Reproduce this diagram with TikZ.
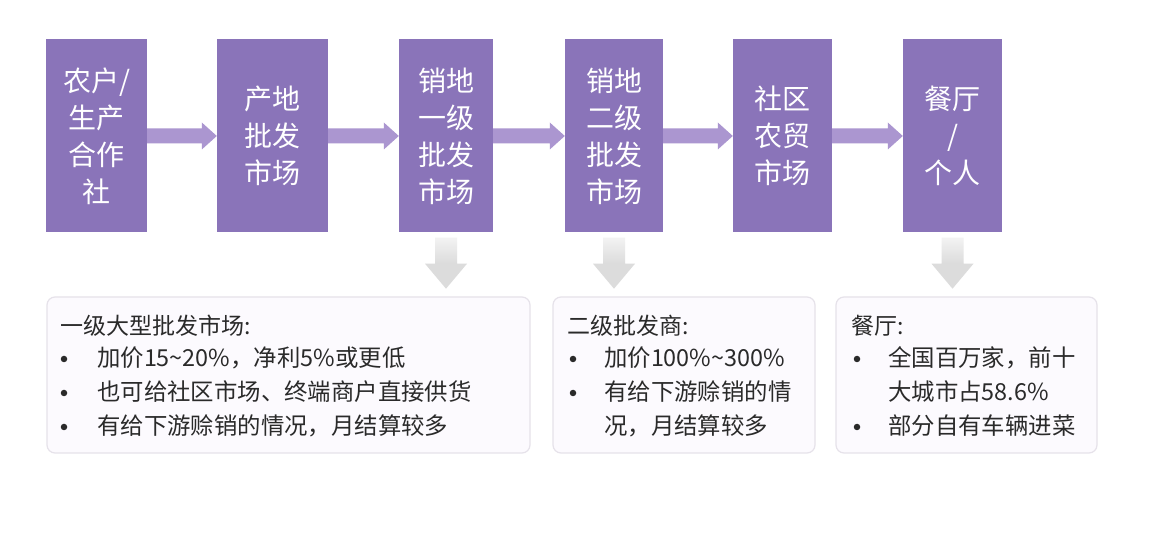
\documentclass[tikz,border=0pt]{standalone}
\usepackage{fontspec}
\setmainfont{Noto Sans CJK SC}
\usetikzlibrary{calc}
\definecolor{boxpurple}{HTML}{8A74B9}
\definecolor{arrowpurple}{HTML}{AB96D0}
\definecolor{downgray}{HTML}{DCDCDC}
\definecolor{notefill}{HTML}{FCFAFE}
\definecolor{noteline}{HTML}{E6E2EA}
\definecolor{notetext}{HTML}{2A2A2A}
\tikzset{
  stagebox/.style={fill=boxpurple, draw=none, inner sep=0pt, minimum height=193pt,
    text=white, font=\fontsize{28}{37}\selectfont, align=center},
  notebox/.style={fill=notefill, draw=noteline, line width=1.2pt, rounded corners=8pt,
    inner sep=0pt, minimum height=156pt},
  notetitle/.style={anchor=base west, inner sep=0pt, text=notetext, font=\fontsize{23}{34}\selectfont},
  bulletdot/.style={circle, fill=notetext, inner sep=0pt, minimum size=6.5pt},
  bullettext/.style={anchor=base west, inner sep=0pt, text=notetext, font=\fontsize{23.4}{34}\selectfont},
  flowarrow/.style={fill=arrowpurple},
  downarrow/.style={top color=downgray!35, bottom color=downgray, middle color=downgray}
}
\newcommand{\flowarrowdraw}[2]{%
  \fill[flowarrow] ($(#1.east)+(0,7.5)$) -- ($(#2.west)+(-15,7.5)$) -- ($(#2.west)+(-15,13.5)$)
    -- (#2.west) -- ($(#2.west)+(-15,-13.5)$) -- ($(#2.west)+(-15,-7.5)$) -- ($(#1.east)+(0,-7.5)$) -- cycle;}
\newcommand{\downarrowdraw}[2]{%
  \shade[downarrow] ($(#1.south)+(-11,5)$) -- ($(#1.south)+(-11,31)$) -- ($(#1.south)+(-21,31)$)
    -- ($(#1.south)+(0,#2)$) -- ($(#1.south)+(21,31)$) -- ($(#1.south)+(11,31)$) -- ($(#1.south)+(11,5)$) -- cycle;}
\begin{document}
\begin{tikzpicture}[x=1pt,y=-1pt]
\useasboundingbox[fill=white] (0,0) rectangle (1160,534);
% stage boxes
\node[stagebox, minimum width=101pt] (b1) at (96.5,136) {农户/\\生产\\合作\\社};
\node[stagebox, minimum width=111pt] (b2) at (272.5,136) {产地\\批发\\市场};
\node[stagebox, minimum width=94pt] (b3) at (446,136) {销地\\一级\\批发\\市场};
\node[stagebox, minimum width=98pt] (b4) at (614,136) {销地\\二级\\批发\\市场};
\node[stagebox, minimum width=99pt] (b5) at (782.5,136) {社区\\农贸\\市场};
\node[stagebox, minimum width=99pt] (b6) at (952.5,136) {餐厅\\/\\个人};
% flow arrows
\flowarrowdraw{b1}{b2}
\flowarrowdraw{b2}{b3}
\flowarrowdraw{b3}{b4}
\flowarrowdraw{b4}{b5}
\flowarrowdraw{b5}{b6}
% note boxes
\node[notebox, minimum width=483pt] (nA) at (288.5,375) {};
\node[notebox, minimum width=262pt] (nB) at (684,375) {};
\node[notebox, minimum width=261pt] (nC) at (966.5,375) {};
% down arrows
\downarrowdraw{b3}{56}
\downarrowdraw{b4}{56}
\downarrowdraw{b6}{56}
% texts A
\node[notetitle] (tA0) at (60,335) {一级大型批发市场:};
\node[bulletdot] (dA1) at (64,359) {};
\node[bullettext] (tA1) at (97,367) {加价15\textasciitilde20\%，净利5\%或更低};
\node[bulletdot] (dA2) at (64,393) {};
\node[bullettext] (tA2) at (97,401) {也可给社区市场、终端商户直接供货};
\node[bulletdot] (dA3) at (64,427) {};
\node[bullettext] (tA3) at (97,435) {有给下游赊销的情况，月结算较多};
% texts B
\node[notetitle] (tB0) at (567,335) {二级批发商:};
\node[bulletdot] (dB1) at (573,359) {};
\node[bullettext] (tB1) at (604,367) {加价100\%\textasciitilde300\%};
\node[bulletdot] (dB2) at (573,393) {};
\node[bullettext] (tB2) at (604,401) {有给下游赊销的情};
\node[bullettext] (tB3) at (604,435) {况，月结算较多};
% texts C
\node[notetitle] (tC0) at (851,335) {餐厅:};
\node[bulletdot] (dC1) at (857,359) {};
\node[bullettext] (tC1) at (888,367) {全国百万家，前十};
\node[bullettext] (tC2) at (888,401) {大城市占58.6\%};
\node[bulletdot] (dC3) at (857,427) {};
\node[bullettext] (tC3) at (888,435) {部分自有车辆进菜};
\end{tikzpicture}
\end{document}
